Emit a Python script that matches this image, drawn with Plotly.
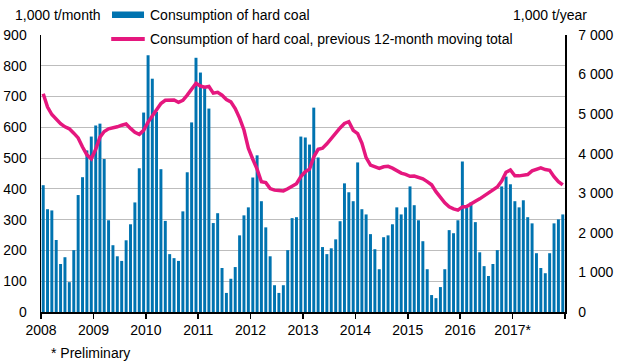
import pandas as pd
import plotly.graph_objects as go

# ---- data (1,000 t) ----
start_month = "2008-01-01"
monthly_consumption = [
    412, 334, 330, 234, 156, 178, 97, 201, 380, 438, 525, 570,   # 2008
    606, 612, 497, 298, 217, 181, 166, 233, 285, 356, 467, 648,  # 2009
    834, 758, 650, 464, 296, 188, 175, 166, 327, 454, 616, 826,  # 2010
    778, 728, 661, 289, 321, 143, 62, 108, 146, 249, 314, 340,   # 2011
    437, 509, 360, 275, 181, 87, 62, 87, 201, 305, 308, 570,     # 2012
    567, 544, 664, 502, 211, 188, 207, 236, 295, 418, 389, 360,  # 2013
    486, 334, 317, 253, 204, 139, 243, 249, 285, 340, 317, 340,  # 2014
    408, 347, 298, 230, 139, 55, 45, 81, 139, 266, 256, 298,     # 2015
    489, 338, 356, 292, 194, 149, 117, 156, 201, 408, 440, 415,  # 2016
    360, 340, 363, 308, 288, 191, 143, 126, 191, 288, 301, 317,  # 2017
]
moving_total_12m = [
    5515, 5180, 4990, 4860, 4760, 4680, 4630, 4520, 4400, 4170, 3970, 3870,
    4110, 4420, 4560, 4630, 4650, 4680, 4720, 4750, 4640, 4540, 4490, 4590,
    4800, 4960, 5110, 5270, 5350, 5360, 5360, 5300, 5350, 5480, 5640, 5780,
    5710, 5680, 5700, 5530, 5550, 5480, 5370, 5310, 5140, 4900, 4600, 4140,
    3860, 3610, 3290, 3270, 3120, 3080, 3070, 3060, 3115, 3175, 3240, 3420,
    3545, 3610, 3920, 4110, 4140, 4250, 4390, 4540, 4650, 4765, 4810, 4590,
    4510, 4270, 3900, 3710, 3670, 3630, 3670, 3680, 3635, 3570, 3510, 3480,
    3430, 3435, 3410, 3365, 3295, 3215, 3040, 2900, 2760, 2660, 2605, 2575,
    2655, 2665, 2720, 2800, 2860, 2940, 3000, 3080, 3160, 3310, 3530, 3590,
    3440, 3440, 3455, 3475, 3565, 3610, 3640, 3600, 3580, 3420, 3295, 3210,
]
year_labels = ["2008", "2009", "2010", "2011", "2012", "2013", "2014", "2015", "2016", "2017*", ""]
left_ticks = [0, 100, 200, 300, 400, 500, 600, 700, 800, 900]
right_ticks = [0, 1000, 2000, 3000, 4000, 5000, 6000, 7000]
right_tick_text = ["0", "1 000", "2 000", "3 000", "4 000", "5 000", "6 000", "7 000"]

BLUE = "#0073b0"
PINK = "#e5177e"
FONT = "Liberation Sans, Arial, sans-serif"

months = pd.date_range(start_month, periods=len(monthly_consumption), freq="MS")
year_ticks = pd.date_range(start_month, periods=len(year_labels), freq="YS")

fig = go.Figure()
fig.add_trace(go.Bar(
    x=months, y=monthly_consumption, xperiod="M1", xperiodalignment="middle",
    marker=dict(color=BLUE, line=dict(width=0)), name="Consumption of hard coal",
    showlegend=False,
))
fig.add_trace(go.Scatter(
    x=months, y=moving_total_12m, xperiod="M1", xperiodalignment="middle",
    yaxis="y2", mode="lines", line=dict(color=PINK, width=3.5),
    name="Consumption of hard coal, previous 12-month moving total",
    showlegend=False,
))

fig.update_layout(
    width=618, height=363,
    margin=dict(l=41, r=53, t=34.5, b=51, autoexpand=False),
    paper_bgcolor="white", plot_bgcolor="white",
    font=dict(family=FONT, size=14, color="#000000"),
    bargap=0.3,
    hovermode=False,
    xaxis=dict(
        type="date", range=[year_ticks[0], year_ticks[-1]],
        tickmode="array", tickvals=year_ticks, ticktext=year_labels,
        ticks="outside", ticklen=5, tickwidth=1.5, tickcolor="black",
        showline=True, linecolor="black", linewidth=1.5, showgrid=False,
        ticklabelstandoff=0, automargin=False,
    ),
    yaxis=dict(
        range=[0, 900], tickmode="array", tickvals=left_ticks,
        showgrid=True, gridcolor="#bdbdbd", gridwidth=1,
        showline=True, linecolor="black", linewidth=1.5,
        zeroline=False, ticks="", ticklabelstandoff=10, automargin=False,
    ),
    yaxis2=dict(
        overlaying="y", side="right", range=[0, 7000],
        tickmode="array", tickvals=right_ticks, ticktext=right_tick_text,
        showgrid=False, showline=True, linecolor="black", linewidth=1.5,
        zeroline=False, ticks="", ticklabelstandoff=9, automargin=False,
    ),
)

# manual legend (white box hides the top gridline like the original)
fig.add_shape(type="rect", xref="paper", yref="paper", x0=0.122, x1=0.935, y0=0.955, y1=1.13,
              fillcolor="white", line=dict(width=0), layer="above")
fig.add_shape(type="rect", xref="paper", yref="paper", x0=0.1355, x1=0.1966, y0=1.061, y1=1.085,
              fillcolor=BLUE, line=dict(width=0), layer="above")
fig.add_shape(type="line", xref="paper", yref="paper", x0=0.134, x1=0.198, y0=0.986, y1=0.986,
              line=dict(color=PINK, width=4), layer="above")
fig.add_annotation(xref="paper", yref="paper", x=0.204, y=1.073, xanchor="left", yanchor="middle",
                   text="Consumption of hard coal", showarrow=False)
fig.add_annotation(xref="paper", yref="paper", x=0.204, y=0.986, xanchor="left", yanchor="middle",
                   text="Consumption of hard coal, previous 12-month moving total", showarrow=False)

# axis unit titles and footnote
fig.add_annotation(xref="paper", yref="paper", x=-0.054, y=1.073, xanchor="left", yanchor="middle",
                   text="1,000 t/month", showarrow=False)
fig.add_annotation(xref="paper", yref="paper", x=1.046, y=1.073, xanchor="right", yanchor="middle",
                   text="1,000 t/year", showarrow=False)
fig.add_annotation(xref="paper", yref="paper", x=0.015, y=-0.147, xanchor="left", yanchor="middle",
                   text="* Preliminary", showarrow=False)

# remove the default 8 px page margin so the figure sits at the window origin
fig.write_html("out.html", config={"displayModeBar": False, "staticPlot": True},
               post_script="document.body.style.margin='0';")
